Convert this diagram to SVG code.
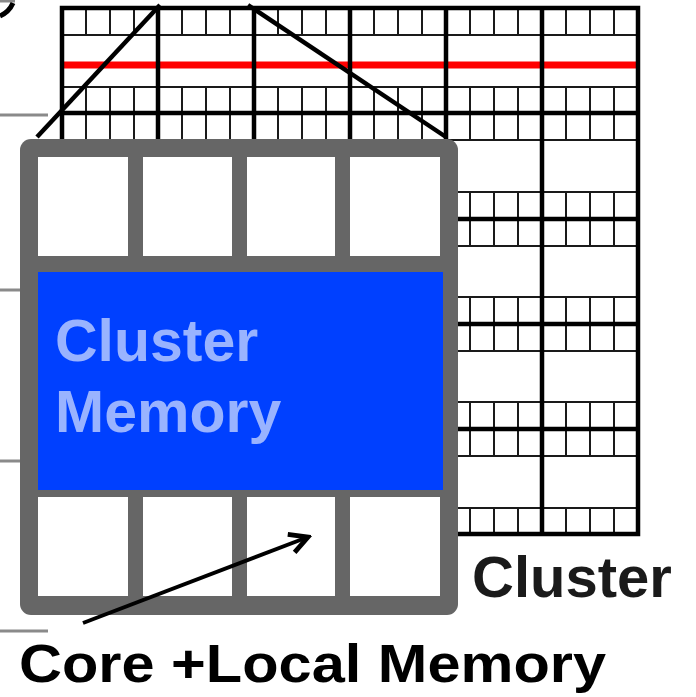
<svg xmlns="http://www.w3.org/2000/svg" width="696" height="697" viewBox="0 0 696 697">
<style>
.thin{stroke:#1a1a1a;stroke-width:2;fill:none}
.thick{stroke:#000;stroke-width:4.5;fill:none}
.red{stroke:#ff0000;stroke-width:7;fill:none}
.edge{stroke:#8a8a8a;stroke-width:3;fill:none}
.zoom{stroke:#000;stroke-width:4.5;fill:none;stroke-linecap:butt}
.cell{fill:#fff}
.big{font-family:"Liberation Sans",Arial,sans-serif;font-weight:bold}
</style>
<defs>
<pattern id="cellLines" patternUnits="userSpaceOnUse" x="50" y="0" width="24" height="10">
<rect x="11" y="0" width="2" height="10" fill="#1a1a1a"/>
</pattern>
<marker id="openArrow" markerUnits="userSpaceOnUse" viewBox="0 0 20 20" refX="17" refY="10" markerWidth="24" markerHeight="24" orient="auto">
<path d="M2,2 L17,10 L2,18" fill="none" stroke="#000" stroke-width="4"/>
</marker>
</defs>
<rect width="696" height="697" fill="#fff"/>

<g id="edge-marks">
<path class="edge" d="M0,115 H48 M0,290 H20 M0,461 H20 M0,631 H48 M0,1 H15"/>
<path d="M0,16 Q9,12 13,3" fill="none" stroke="#000" stroke-width="5"/>
</g>

<g id="cluster-array">
<g id="cell-bands" fill="url(#cellLines)">
<rect x="62" y="8" width="576" height="27"/>
<rect x="62" y="87" width="576" height="53"/>
<rect x="62" y="192" width="576" height="54"/>
<rect x="62" y="297" width="576" height="54"/>
<rect x="62" y="402" width="576" height="54"/>
<rect x="62" y="508" width="576" height="26"/>
</g>
<path class="thin" d="M62,35H638M62,87H638M62,140H638M62,192H638M62,246H638M62,297H638M62,351H638M62,402H638M62,456H638M62,508H638"/>
<path id="interconnect" class="red" d="M61,65H640"/>
<path class="thick" d="M62,113H638M62,219H638M62,324H638M62,429H638M158,8V534M254,8V534M350,8V534M446,8V534M542,8V534"/>
<rect class="thick" x="62" y="8" width="576" height="526"/>
</g>

<g id="connectors">
<path class="zoom" d="M37,137 L160,5"/>
<path class="zoom" d="M248,5 L446,137"/>
</g>

<g id="cluster-detail">
<rect x="20" y="139" width="438" height="476" rx="11" fill="#666"/>
<g id="cores-top">
<rect class="cell" x="38" y="157" width="90" height="99"/>
<rect class="cell" x="143" y="157" width="89" height="99"/>
<rect class="cell" x="247" y="157" width="88" height="99"/>
<rect class="cell" x="350" y="157" width="90" height="99"/>
</g>
<g id="cluster-memory">
<rect x="38" y="272" width="405" height="218" fill="#0040ff"/>
<text class="big" x="55" y="361" font-size="59" fill="#99b3ff">Cluster</text>
<text class="big" x="55" y="432" font-size="59" fill="#99b3ff">Memory</text>
</g>
<g id="cores-bottom">
<rect class="cell" x="38" y="497" width="90" height="99"/>
<rect class="cell" x="143" y="497" width="89" height="99"/>
<rect class="cell" x="247" y="497" width="88" height="99"/>
<rect class="cell" x="350" y="497" width="90" height="99"/>
</g>
</g>

<g id="core-arrow">
<path d="M83,623 L308,537" stroke="#000" stroke-width="4" fill="none" marker-end="url(#openArrow)"/>
</g>

<g id="labels">
<text class="big" x="472" y="597" font-size="58" fill="#1a1a1a">Cluster</text>
<text class="big" x="19" y="682" font-size="54" fill="#000" textLength="587" lengthAdjust="spacingAndGlyphs">Core +Local Memory</text>
</g>
</svg>
